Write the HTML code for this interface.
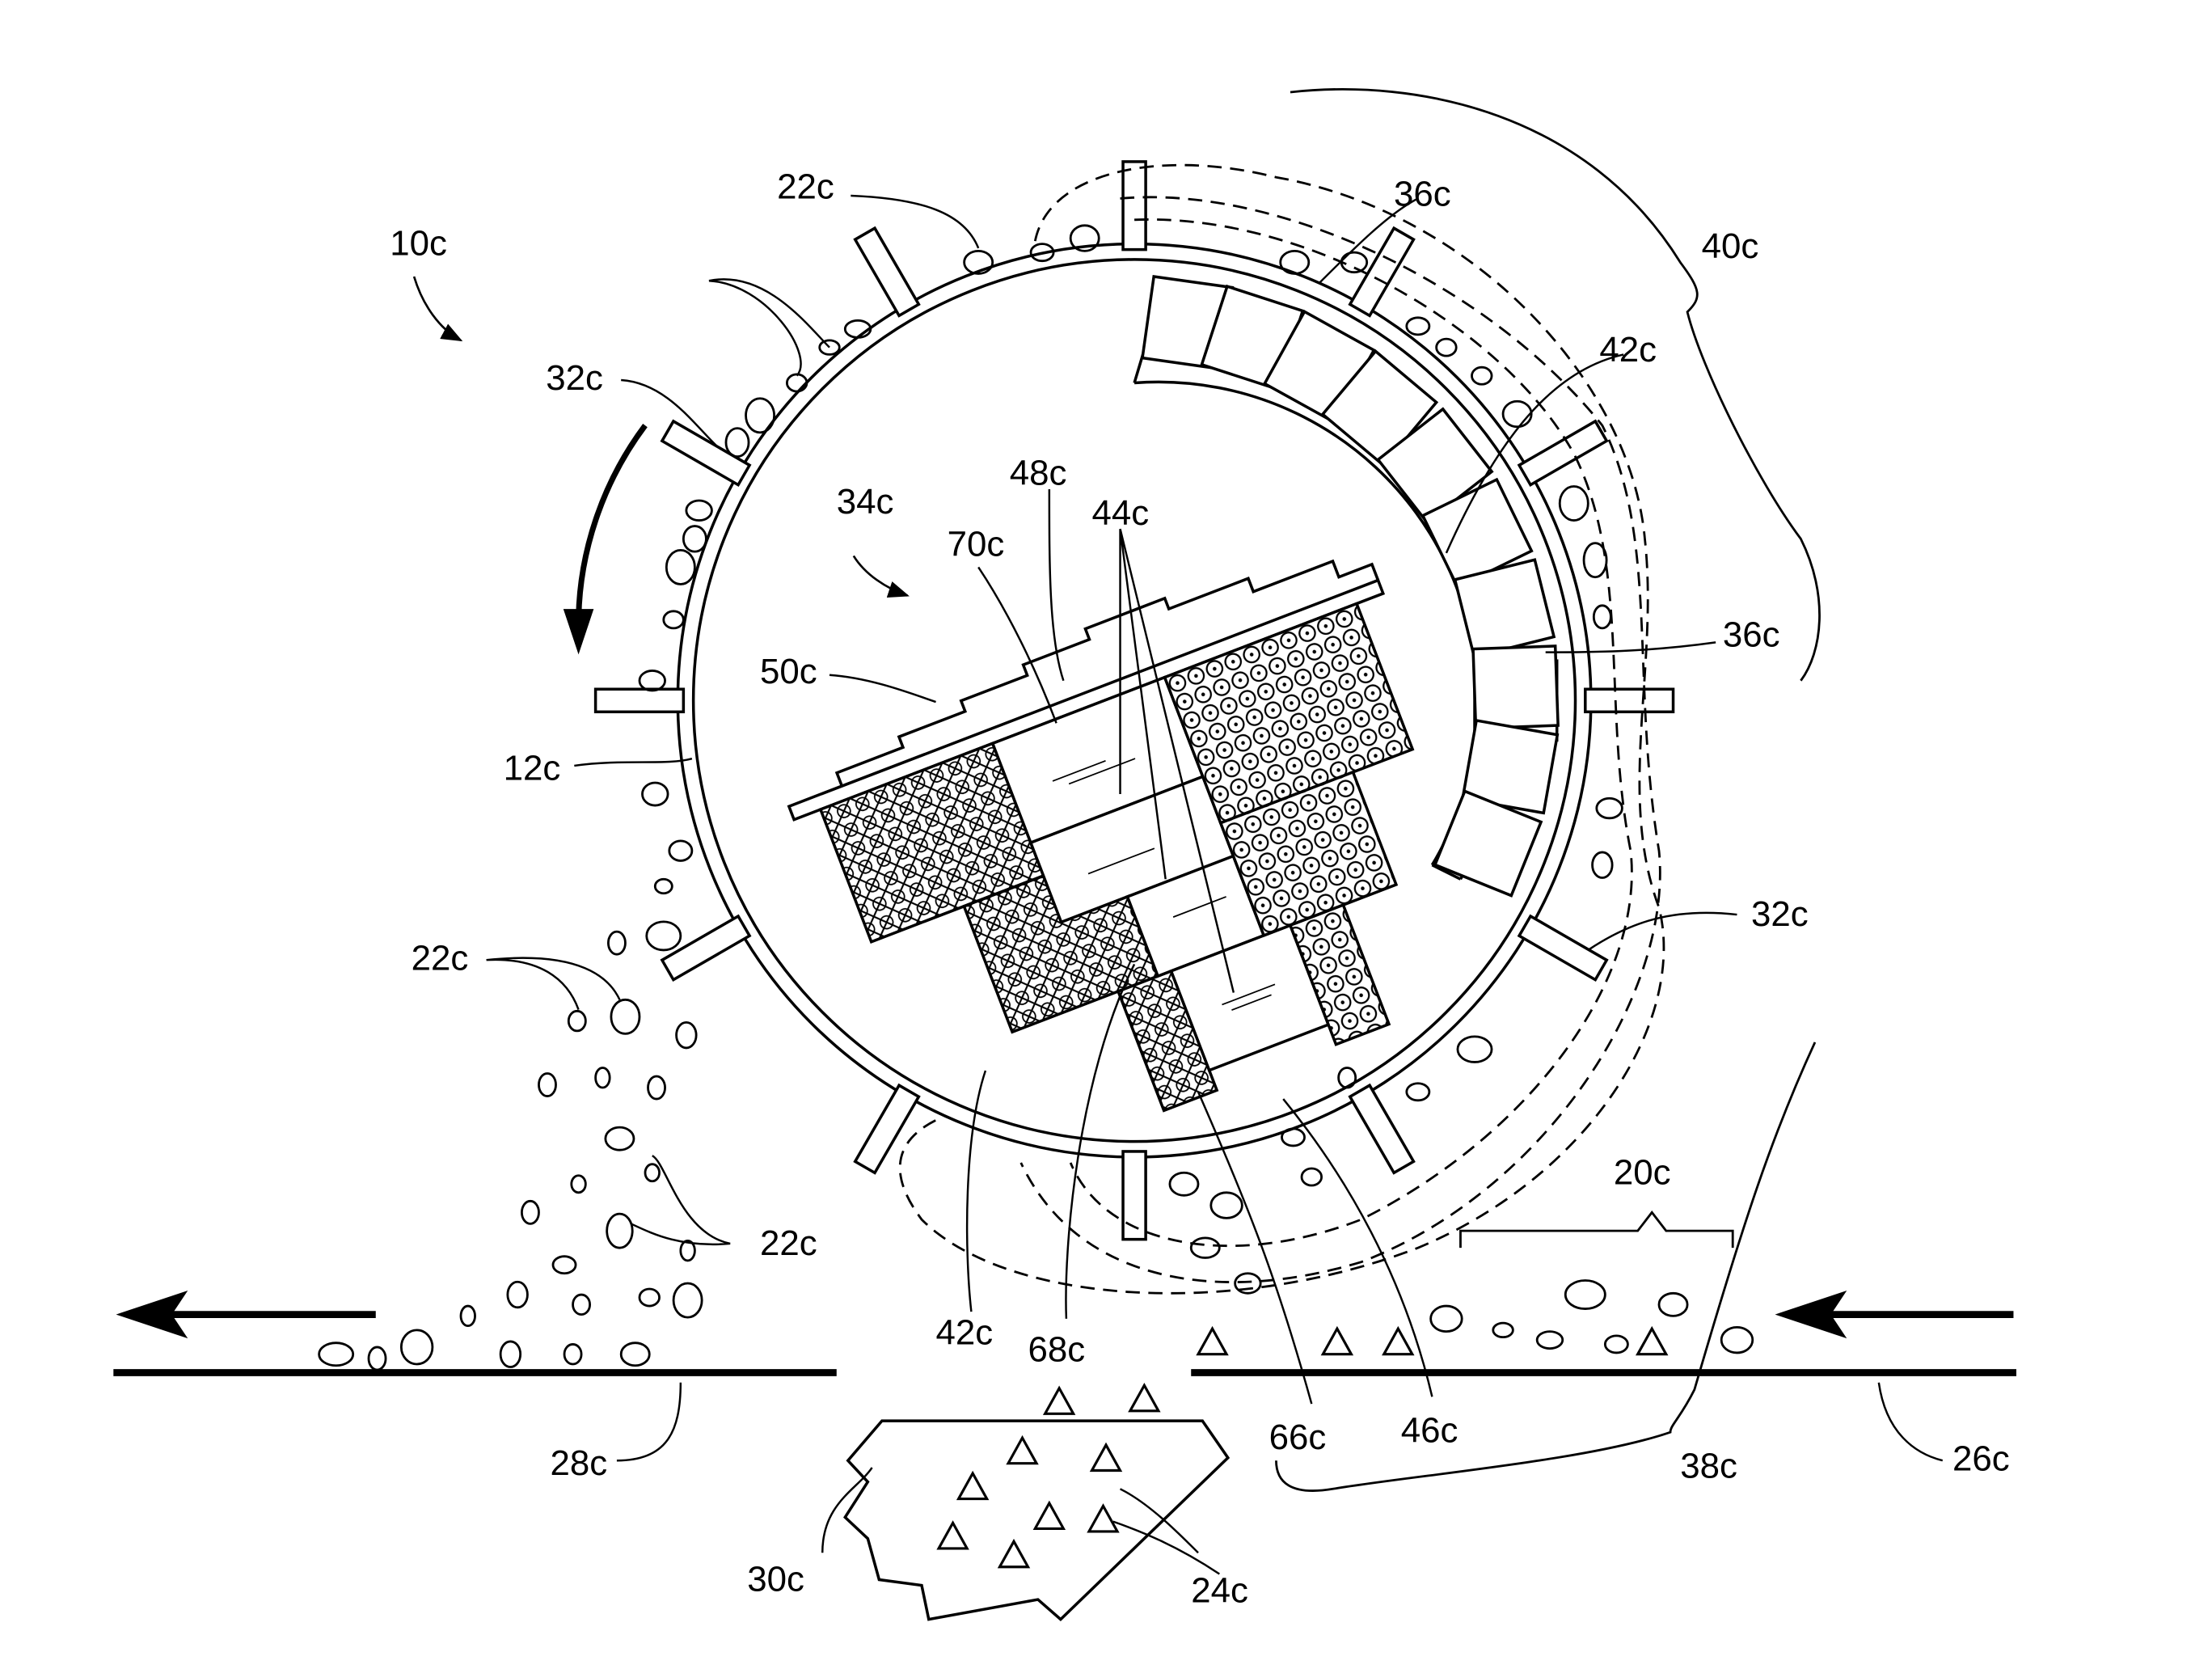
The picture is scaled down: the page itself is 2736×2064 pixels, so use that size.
<!DOCTYPE html>
<html><head><meta charset="utf-8"><style>
html,body{margin:0;padding:0;background:#fff}
svg{display:block}
text{font-family:"Liberation Sans",sans-serif;font-size:25px;fill:#000}
</style></head><body>
<svg width="2736" height="2064" viewBox="0 0 1560 1177" preserveAspectRatio="none" xmlns="http://www.w3.org/2000/svg">
<defs>
<pattern id="xh" width="14" height="14" patternUnits="userSpaceOnUse">
<rect width="14" height="14" fill="#fff"/>
<path d="M0 0L14 14M14 0L0 14" stroke="#000" stroke-width="1.2"/>
<circle cx="7" cy="7" r="4.5" fill="none" stroke="#000" stroke-width="1"/>
</pattern>
<pattern id="dt" width="14" height="14" patternUnits="userSpaceOnUse">
<rect width="14" height="14" fill="#fff"/>
<circle cx="7" cy="7" r="5.5" fill="none" stroke="#000" stroke-width="1.3"/>
<circle cx="7" cy="7" r="1.3" fill="#000"/>
</pattern>
<marker id="ah" markerWidth="10" markerHeight="10" refX="9" refY="5" orient="auto"><path d="M0 1L10 5L0 9z" fill="#000"/></marker>
</defs>
<g fill="none" stroke="#000" stroke-width="2">
<!-- drum -->
<circle cx="800" cy="494" r="322"/>
<circle cx="800" cy="494" r="311"/>
<!-- paddles -->
<g id="pad">
<rect x="1118" y="486" width="62" height="16" fill="#fff"/>
</g>
<use href="#pad" transform="rotate(30 800 494)"/>
<use href="#pad" transform="rotate(60 800 494)"/>
<use href="#pad" transform="rotate(90 800 494)"/>
<use href="#pad" transform="rotate(120 800 494)"/>
<use href="#pad" transform="rotate(150 800 494)"/>
<use href="#pad" transform="rotate(180 800 494)"/>
<use href="#pad" transform="rotate(210 800 494)"/>
<use href="#pad" transform="rotate(240 800 494)"/>
<use href="#pad" transform="rotate(270 800 494)"/>
<use href="#pad" transform="rotate(300 800 494)"/>
<use href="#pad" transform="rotate(330 800 494)"/>
<!-- inner band -->
<path d="M806 250 A245 245 0 0 1 1030 620 M800 270 A225 225 0 0 1 1010 610"/>
<path d="M806 250 L800 270 M1030 620 L1010 610"/>
<!-- boxes 36c -->
<g id="bx"><rect x="1040" y="466" width="58" height="56" fill="#fff"/></g>
<use href="#bx" transform="rotate(-82 800 494)"/>
<use href="#bx" transform="rotate(-72 800 494)"/>
<use href="#bx" transform="rotate(-61 800 494)"/>
<use href="#bx" transform="rotate(-50 800 494)"/>
<use href="#bx" transform="rotate(-38 800 494)"/>
<use href="#bx" transform="rotate(-26 800 494)"/>
<use href="#bx" transform="rotate(-14 800 494)"/>
<use href="#bx" transform="rotate(-2 800 494)"/>
<use href="#bx" transform="rotate(10 800 494)"/>
<use href="#bx" transform="rotate(22 800 494)"/>
<!-- assembly -->
<g transform="translate(560,578) rotate(-21)">
<path d="M0 0 L445 0 L445 -10 L0 -10 Z" fill="#fff"/>
<path d="M40 -10 L40 -20 L90 -20 L90 -28 L140 -28 L140 -36 L190 -36 L190 -44 L240 -44 L240 -52 L300 -52 L300 -44 L360 -44 L360 -34 L420 -34 L420 -22 L445 -22 L445 -10"/>
<rect x="20" y="0" width="130" height="100" fill="url(#xh)"/>
<rect x="90" y="100" width="110" height="95" fill="url(#xh)"/>
<rect x="170" y="195" width="40" height="90" fill="url(#xh)"/>
<rect x="150" y="0" width="130" height="75" fill="#fff"/>
<rect x="150" y="75" width="130" height="60" fill="#fff"/>
<rect x="200" y="135" width="80" height="60" fill="#fff"/>
<rect x="210" y="195" width="90" height="75" fill="#fff"/>
<rect x="280" y="0" width="145" height="110" fill="url(#dt)"/>
<rect x="280" y="110" width="100" height="85" fill="url(#dt)"/>
<rect x="300" y="195" width="40" height="90" fill="url(#dt)"/>
<path d="M180 40h40M190 46h50M180 110h50M225 160h40M235 230h40M240 236h30" stroke-width="1"/>
</g>
<!-- dashed contours -->
<g stroke-dasharray="10 6" stroke-width="1.6">
<path d="M730 170 C740 120 820 105 900 125 C1040 150 1150 270 1160 380 C1170 470 1140 560 1170 640 C1190 720 1120 830 1000 880 C870 930 710 920 650 860 C620 820 640 800 660 790"/>
<path d="M790 140 C900 130 1050 200 1130 300 C1170 380 1150 480 1170 600 C1180 700 1090 840 960 890 C860 920 760 905 720 820"/>
<path d="M800 155 C920 150 1060 230 1110 320 C1150 400 1130 500 1150 600 C1160 690 1080 800 960 860 C870 895 780 880 755 820"/>
</g>
<!-- pebbles -->
<g stroke-width="1.6">
<ellipse cx="690" cy="185" rx="10" ry="8"/><ellipse cx="735" cy="178" rx="8" ry="6"/><ellipse cx="765" cy="168" rx="10" ry="9"/>
<ellipse cx="605" cy="232" rx="9" ry="6"/><ellipse cx="585" cy="245" rx="7" ry="5"/><ellipse cx="562" cy="270" rx="7" ry="6"/>
<ellipse cx="536" cy="293" rx="10" ry="12"/><ellipse cx="520" cy="312" rx="8" ry="10"/><ellipse cx="493" cy="360" rx="9" ry="7"/>
<ellipse cx="490" cy="380" rx="8" ry="9"/><ellipse cx="480" cy="400" rx="10" ry="12"/><ellipse cx="475" cy="437" rx="7" ry="6"/>
<ellipse cx="460" cy="480" rx="9" ry="7"/><ellipse cx="462" cy="560" rx="9" ry="8"/><ellipse cx="480" cy="600" rx="8" ry="7"/>
<ellipse cx="468" cy="625" rx="6" ry="5"/><ellipse cx="468" cy="660" rx="12" ry="10"/><ellipse cx="435" cy="665" rx="6" ry="8"/>
<ellipse cx="441" cy="717" rx="10" ry="12"/><ellipse cx="407" cy="720" rx="6" ry="7"/><ellipse cx="484" cy="730" rx="7" ry="9"/>
<ellipse cx="386" cy="765" rx="6" ry="8"/><ellipse cx="425" cy="760" rx="5" ry="7"/><ellipse cx="463" cy="767" rx="6" ry="8"/>
<ellipse cx="437" cy="803" rx="10" ry="8"/><ellipse cx="408" cy="835" rx="5" ry="6"/><ellipse cx="460" cy="827" rx="5" ry="6"/>
<ellipse cx="374" cy="855" rx="6" ry="8"/><ellipse cx="437" cy="868" rx="9" ry="12"/><ellipse cx="398" cy="892" rx="8" ry="6"/>
<ellipse cx="485" cy="882" rx="5" ry="7"/><ellipse cx="365" cy="913" rx="7" ry="9"/><ellipse cx="410" cy="920" rx="6" ry="7"/>
<ellipse cx="458" cy="915" rx="7" ry="6"/><ellipse cx="485" cy="917" rx="10" ry="12"/><ellipse cx="330" cy="928" rx="5" ry="7"/>
<ellipse cx="237" cy="955" rx="12" ry="8"/><ellipse cx="266" cy="958" rx="6" ry="8"/><ellipse cx="294" cy="950" rx="11" ry="12"/>
<ellipse cx="360" cy="955" rx="7" ry="9"/><ellipse cx="404" cy="955" rx="6" ry="7"/><ellipse cx="448" cy="955" rx="10" ry="8"/>
<ellipse cx="913" cy="185" rx="10" ry="8"/><ellipse cx="955" cy="185" rx="9" ry="7"/><ellipse cx="1000" cy="230" rx="8" ry="6"/>
<ellipse cx="1020" cy="245" rx="7" ry="6"/><ellipse cx="1045" cy="265" rx="7" ry="6"/><ellipse cx="1070" cy="292" rx="10" ry="9"/>
<ellipse cx="1110" cy="355" rx="10" ry="12"/><ellipse cx="1125" cy="395" rx="8" ry="12"/><ellipse cx="1130" cy="435" rx="6" ry="8"/>
<ellipse cx="1135" cy="570" rx="9" ry="7"/><ellipse cx="1130" cy="610" rx="7" ry="9"/><ellipse cx="1040" cy="740" rx="12" ry="9"/>
<ellipse cx="1000" cy="770" rx="8" ry="6"/><ellipse cx="950" cy="760" rx="6" ry="7"/><ellipse cx="912" cy="802" rx="8" ry="6"/>
<ellipse cx="925" cy="830" rx="7" ry="6"/><ellipse cx="865" cy="850" rx="11" ry="9"/><ellipse cx="835" cy="835" rx="10" ry="8"/>
<ellipse cx="850" cy="880" rx="10" ry="7"/><ellipse cx="880" cy="905" rx="9" ry="7"/><ellipse cx="1020" cy="930" rx="11" ry="9"/>
<ellipse cx="1060" cy="938" rx="7" ry="5"/><ellipse cx="1093" cy="945" rx="9" ry="6"/><ellipse cx="1118" cy="913" rx="14" ry="10"/>
<ellipse cx="1140" cy="948" rx="8" ry="6"/><ellipse cx="1180" cy="920" rx="10" ry="8"/><ellipse cx="1225" cy="945" rx="11" ry="9"/>
</g>
<!-- triangles -->
<g stroke-width="1.8">
<path d="M845 955l10-18l10 18z"/><path d="M933 955l10-18l10 18z"/><path d="M976 955l10-18l10 18z"/><path d="M1155 955l10-18l10 18z"/>
<path d="M737 997l10-18l10 18z"/><path d="M797 995l10-18l10 18z"/><path d="M711 1032l10-18l10 18z"/><path d="M770 1037l10-18l10 18z"/>
<path d="M676 1057l10-18l10 18z"/><path d="M730 1078l10-18l10 18z"/><path d="M768 1080l10-18l10 18z"/><path d="M662 1092l10-18l10 18z"/><path d="M705 1105l10-18l10 18z"/>
</g>
<!-- bin -->
<path d="M598 1030 L622 1002 L848 1002 L866 1028 L748 1142 L732 1128 L655 1142 L650 1118 L620 1114 L612 1085 L596 1070 L612 1045 Z"/>
<!-- ground -->
<path d="M80 968H590M840 968H1422" stroke-width="5"/>
<!-- arrows -->
<path d="M265 927H115" stroke-width="5"/><path d="M85 927L130 912L120 927L130 942Z" fill="#000"/>
<path d="M1420 927H1285" stroke-width="5"/><path d="M1255 927L1300 912L1290 927L1300 942Z" fill="#000"/>
<path d="M455 300 C425 340 408 390 408 440" stroke-width="4"/><path d="M398 430L408 460L418 430Z" fill="#000" stroke-width="1"/>
<path d="M292 195 C298 215 310 232 325 240" stroke-width="1.5" marker-end="url(#ah)"/>
<path d="M602 392 C610 405 625 415 640 420" stroke-width="1.5" marker-end="url(#ah)"/>
<!-- braces -->
<path d="M910 65 C1000 55 1120 80 1185 185 C1200 205 1200 210 1190 220 C1200 260 1240 340 1270 380 C1290 420 1285 460 1270 480" stroke-width="1.6"/>
<path d="M1280 735 C1250 800 1230 860 1195 980 C1185 1000 1178 1005 1178 1010 C1120 1030 1000 1040 940 1050 C910 1055 900 1045 900 1030" stroke-width="1.6"/>
<path d="M1030 880V868H1155L1165 855L1175 868H1222V880" stroke-width="1.6"/>
<!-- leader lines -->
<g stroke-width="1.4">
<path d="M600 138 C650 140 680 150 690 175"/>
<path d="M500 198 C540 190 570 230 585 245 M500 198 C540 200 575 250 562 265"/>
<path d="M438 268 C470 270 490 300 506 315"/>
<path d="M405 540 C440 535 470 540 488 535"/>
<path d="M343 677 C380 675 400 690 408 712 M343 677 C410 670 430 690 437 705"/>
<path d="M515 877 C480 880 460 870 445 863 M515 877 C480 870 470 820 460 815"/>
<path d="M1000 140 C980 150 955 175 930 200"/>
<path d="M1145 250 C1100 260 1060 300 1020 390"/>
<path d="M1210 453 C1160 460 1120 460 1090 460"/>
<path d="M1225 645 C1180 640 1150 650 1120 670"/>
<path d="M585 476 C615 478 645 490 660 495"/>
<path d="M690 400 C710 430 730 470 745 510"/>
<path d="M740 345 C740 400 740 450 750 480"/>
<path d="M790 373 L790 560 M790 373 L822 620 M790 373 L870 700"/>
<path d="M685 925 C680 880 680 800 695 755"/>
<path d="M752 930 C750 880 760 760 800 680"/>
<path d="M925 990 C900 900 880 850 845 770"/>
<path d="M1010 985 C990 900 950 830 905 775"/>
<path d="M480 975 C480 1010 470 1030 435 1030"/>
<path d="M1325 975 C1330 1010 1350 1025 1370 1030"/>
<path d="M845 1095 C830 1080 810 1060 790 1050 M860 1110 C830 1090 805 1080 785 1073"/>
<path d="M580 1095 C580 1060 605 1050 615 1035"/>
</g>
</g>
<g>
<text x="275" y="180">10c</text>
<text x="548" y="140">22c</text>
<text x="385" y="275">32c</text>
<text x="590" y="362">34c</text>
<text x="712" y="342">48c</text>
<text x="668" y="392">70c</text>
<text x="770" y="370">44c</text>
<text x="536" y="482">50c</text>
<text x="355" y="550">12c</text>
<text x="290" y="684">22c</text>
<text x="536" y="885">22c</text>
<text x="983" y="145">36c</text>
<text x="1200" y="182">40c</text>
<text x="1128" y="255">42c</text>
<text x="1215" y="456">36c</text>
<text x="1235" y="653">32c</text>
<text x="1138" y="835">20c</text>
<text x="660" y="948">42c</text>
<text x="725" y="960">68c</text>
<text x="895" y="1022">66c</text>
<text x="988" y="1017">46c</text>
<text x="1185" y="1042">38c</text>
<text x="1377" y="1037">26c</text>
<text x="388" y="1040">28c</text>
<text x="527" y="1122">30c</text>
<text x="840" y="1130">24c</text>
</g>
</svg>
</body></html>
